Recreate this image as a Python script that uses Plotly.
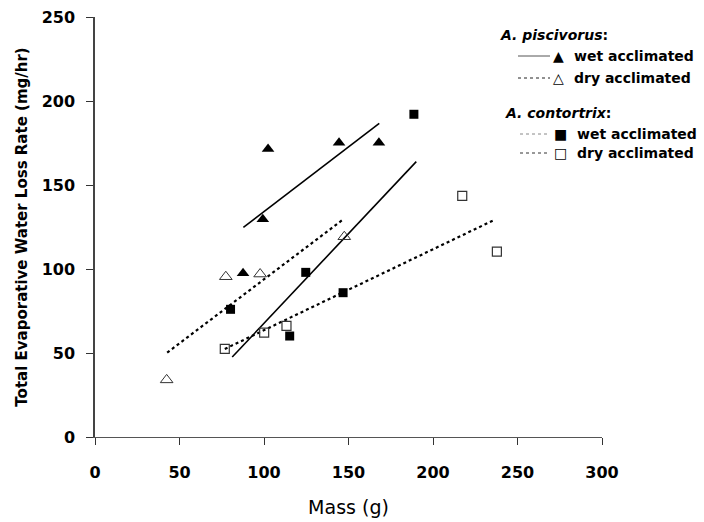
import plotly.graph_objects as go

# ---- data ----
pisc_wet_mass = [87.6, 99.3, 102.4, 144.4, 168.0]
pisc_wet_ewl = [97.4, 129.6, 171.4, 175.2, 175.2]
pisc_dry_mass = [42.4, 77.4, 97.7, 147.5]
pisc_dry_ewl = [34.0, 95.4, 97.0, 119.2]
cont_wet_mass = [80.2, 115.2, 124.7, 146.8, 188.7]
cont_wet_ewl = [76.0, 60.1, 98.0, 85.9, 192.1]
cont_dry_mass = [76.8, 100.1, 113.3, 217.3, 237.8]
cont_dry_ewl = [52.4, 62.1, 66.1, 143.5, 110.3]

# regression lines (end points)
pisc_wet_fit_x = [87.8, 168.2]
pisc_wet_fit_y = [124.8, 186.7]
pisc_dry_fit_x = [42.7, 147.2]
pisc_dry_fit_y = [50.2, 129.8]
cont_wet_fit_x = [81.2, 190.1]
cont_wet_fit_y = [47.6, 163.9]
cont_dry_fit_x = [76.8, 235.4]
cont_dry_fit_y = [52.4, 128.8]

x_ticks = [0, 50, 100, 150, 200, 250, 300]
y_ticks = [0, 50, 100, 150, 200, 250]

FONT = "DejaVu Sans"

fig = go.Figure()

# fit lines
fig.add_trace(go.Scatter(x=pisc_wet_fit_x, y=pisc_wet_fit_y, mode="lines",
                         line=dict(color="black", width=1.6), showlegend=False))
fig.add_trace(go.Scatter(x=pisc_dry_fit_x, y=pisc_dry_fit_y, mode="lines",
                         line=dict(color="black", width=2.2, dash="dot"), showlegend=False))
fig.add_trace(go.Scatter(x=cont_wet_fit_x, y=cont_wet_fit_y, mode="lines",
                         line=dict(color="black", width=1.6), showlegend=False))
fig.add_trace(go.Scatter(x=cont_dry_fit_x, y=cont_dry_fit_y, mode="lines",
                         line=dict(color="black", width=2.2, dash="dot"), showlegend=False))

# points
fig.add_trace(go.Scatter(x=pisc_wet_mass, y=pisc_wet_ewl, mode="markers",
                         marker=dict(symbol="triangle-up", size=11, color="black"),
                         showlegend=False))
fig.add_trace(go.Scatter(x=pisc_dry_mass, y=pisc_dry_ewl, mode="markers",
                         marker=dict(symbol="triangle-up-open", size=11, color="#333",
                                     line=dict(width=1)), showlegend=False))
fig.add_trace(go.Scatter(x=cont_wet_mass, y=cont_wet_ewl, mode="markers",
                         marker=dict(symbol="square", size=9, color="black"),
                         showlegend=False))
fig.add_trace(go.Scatter(x=cont_dry_mass, y=cont_dry_ewl, mode="markers",
                         marker=dict(symbol="square-open", size=9, color="#333",
                                     line=dict(width=1.2)), showlegend=False))

# ---- custom legend (pixel -> paper helpers) ----
L, R, T, B = 95, 602, 17, 437
W, H = R - L, B - T


def px(xp):
    return (xp - L) / W


def py(yp):
    return (B - yp) / H


annotations = []
shapes = []

annotations.append(dict(x=px(498), y=py(35), xref="paper", yref="paper",
                        text="<b><i>A. piscivorus</i>:</b>", showarrow=False,
                        xanchor="left", yanchor="middle",
                        font=dict(family=FONT, size=14, color="black")))
annotations.append(dict(x=px(503), y=py(113), xref="paper", yref="paper",
                        text="<b><i>A. contortrix</i>:</b>", showarrow=False,
                        xanchor="left", yanchor="middle",
                        font=dict(family=FONT, size=14, color="black")))

rows = [
    (56, 518, 550, "solid", "#555", "▲", 558, 572, "wet acclimated"),
    (78, 518, 550, "dot", "#222", "△", 558, 572, "dry acclimated"),
    (134, 520, 550, "dot", "#888", "■", 560, 575, "wet acclimated"),
    (153, 520, 550, "dot", "#333", "□", 560, 575, "dry acclimated"),
]
for yy, x0, x1, dash, col, sym, sx, tx, label in rows:
    shapes.append(dict(type="line", xref="paper", yref="paper",
                       x0=px(x0), x1=px(x1), y0=py(yy), y1=py(yy),
                       line=dict(color=col, width=1, dash=dash)))
    annotations.append(dict(x=px(sx), y=py(yy), xref="paper", yref="paper",
                            text=sym, showarrow=False, xanchor="center", yanchor="middle",
                            font=dict(family=FONT, size=14, color="black")))
    annotations.append(dict(x=px(tx), y=py(yy), xref="paper", yref="paper",
                            text="<b>" + label + "</b>", showarrow=False,
                            xanchor="left", yanchor="middle",
                            font=dict(family=FONT, size=14, color="black")))

fig.update_layout(
    width=704, height=522,
    margin=dict(l=L, r=704 - R, t=T, b=522 - B, autoexpand=False),
    paper_bgcolor="white", plot_bgcolor="white",
    showlegend=False,
    annotations=annotations,
    shapes=shapes,
    xaxis=dict(range=[0, 300], tickvals=x_ticks, ticktext=[str(v) for v in x_ticks],
               automargin=False,
               showgrid=False, zeroline=False, showline=True, linecolor="#555",
               linewidth=1.2, ticks="outside", ticklen=7, tickcolor="#333",
               ticklabelstandoff=14,
               tickfont=dict(family=FONT, size=16, color="black", weight="bold"),
               title=dict(text="Mass (g)", standoff=19,
                          font=dict(family=FONT, size=19, color="black"))),
    yaxis=dict(range=[0, 250], tickvals=y_ticks, ticktext=[str(v) for v in y_ticks],
               automargin=False,
               showgrid=False, zeroline=False, showline=True, linecolor="#444",
               linewidth=1.5, ticks="outside", ticklen=7, tickcolor="#333",
               ticklabelstandoff=8,
               tickfont=dict(family=FONT, size=16, color="black", weight="bold"),
               title=dict(text="<b>Total Evaporative Water Loss Rate (mg/hr)</b>",
                          standoff=10,
                          font=dict(family=FONT, size=15, color="black"))),
)

fig.write_html("out.html", config={"displayModeBar": False},
               post_script="document.body.style.margin='0';document.body.style.overflow='hidden';")
